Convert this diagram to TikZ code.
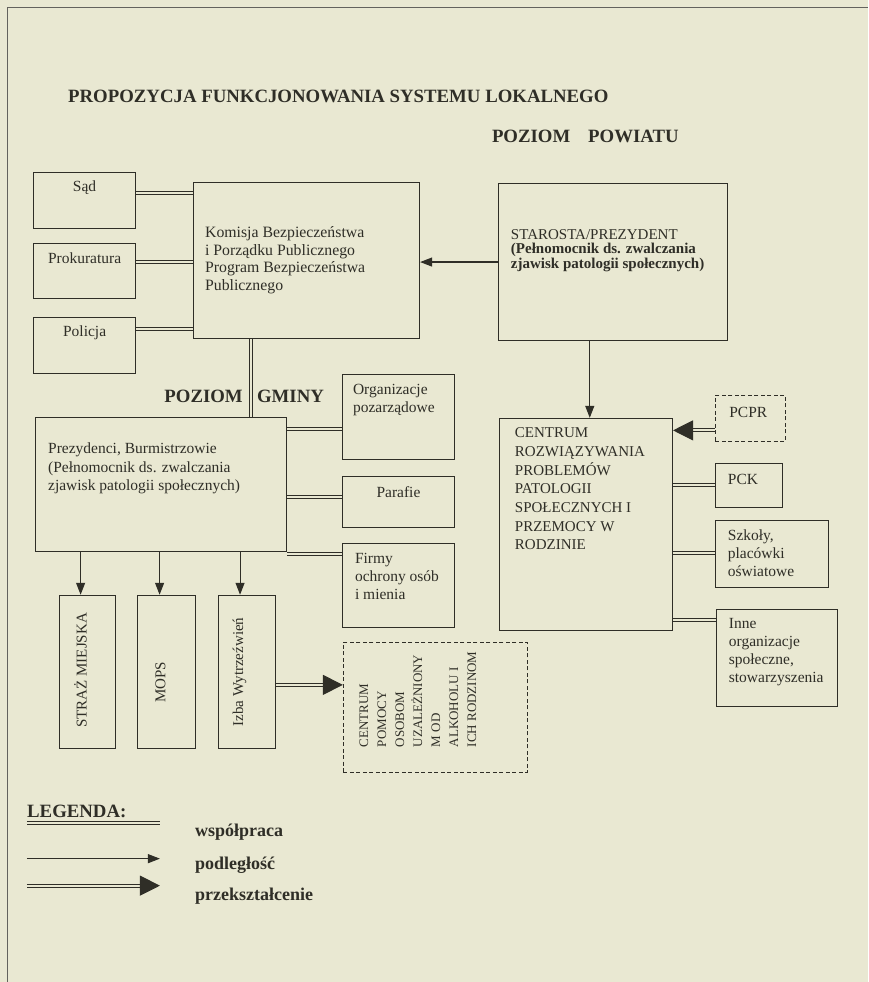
\documentclass[tikz,border=0pt]{standalone}
\usepackage{fontspec}
\setmainfont{Liberation Serif}
\usetikzlibrary{arrows.meta, positioning}
\definecolor{paper}{HTML}{E9E8D2}
\definecolor{ink}{HTML}{2F2E27}

\begin{document}
\begin{tikzpicture}[x=1pt, y=-1pt,
    box/.style={draw=ink, line width=1.3pt, anchor=north west, inner sep=0pt},
    dashbox/.style={box, line width=1.1pt, dash pattern=on 4pt off 2.5pt},
    txt/.style={text=ink, inner sep=0pt, align=left, font=\fontsize{15.5}{18}\selectfont},
    head/.style={text=ink, inner sep=0pt, font=\fontsize{18.8}{22}\selectfont\bfseries},
    lab/.style={text=ink, inner sep=0pt, font=\fontsize{18}{22}\selectfont\bfseries},
    coop/.style={draw=ink, line width=1pt, double=paper, double distance=2pt},
    sub/.style={draw=ink, line width=1.1pt, -{Triangle[length=12pt,width=9pt]}},
    trans/.style={coop, -{Triangle[length=20pt,width=20pt]}}]

    \fill[paper] (0,0) rectangle (868,982);
    \draw[ink!75, line width=0.8pt] (7,982) -- (7,7) -- (868,7);

    % naglowki
    \node[head, anchor=west] (title) at (68,96) {PROPOZYCJA FUNKCJONOWANIA SYSTEMU LOKALNEGO};
    \node[head, anchor=west] (powiat) at (492,136) {POZIOM\hspace{0.7em} POWIATU};

    % poziom powiatu / komisja
    \node[box, minimum width=102pt, minimum height=56pt] (sad) at (33,172) {};
    \node[box, minimum width=102pt, minimum height=55pt] (prok) at (33,243) {};
    \node[box, minimum width=102pt, minimum height=56pt] (policja) at (33,317) {};
    \node[box, minimum width=226pt, minimum height=156pt] (komisja) at (193,182) {};
    \node[box, minimum width=229pt, minimum height=157pt] (starosta) at (498,183) {};

    \node[txt] (sad-t) at ([shift={(0,16)}]sad.north) {Sąd};
    \node[txt] (prok-t) at ([shift={(0,15)}]prok.north) {Prokuratura};
    \node[txt] (policja-t) at ([shift={(0,16)}]policja.north) {Policja};
    \node[txt, anchor=west, font=\fontsize{15.8}{17.5}\selectfont] (komisja-t) at ([shift={(12,78.5)}]komisja.north west)
        {Komisja Bezpieczeństwa\\i Porządku Publicznego\\Program Bezpieczeństwa\\Publicznego};
    \node[txt, anchor=west, font=\fontsize{15}{14.7}\selectfont] (starosta-t) at ([shift={(13,67.5)}]starosta.north west)
        {STAROSTA/PREZYDENT\\\textbf{(Pełnomocnik ds. zwalczania}\\\textbf{zjawisk patologii społecznych)}};

    % poziom gminy
    \node[box, minimum width=251pt, minimum height=134pt] (prez) at (35,417) {};
    \node[box, minimum width=112pt, minimum height=85pt] (org) at (342,374) {};
    \node[box, minimum width=112pt, minimum height=51pt] (parafie) at (342,476) {};
    \node[box, minimum width=112pt, minimum height=84pt] (firmy) at (342,543) {};
    \node[box, minimum width=56pt, minimum height=153pt] (straz) at (59,595) {};
    \node[box, minimum width=58pt, minimum height=153pt] (mops) at (137,595) {};
    \node[box, minimum width=57pt, minimum height=153pt] (izba) at (218,595) {};
    \node[dashbox, minimum width=184pt, minimum height=130pt] (cpom) at (343,642) {};

    \node[head, anchor=east] (gmina-l) at (243,397) {POZIOM};
    \node[head, anchor=west] (gmina-r) at (257,397) {GMINY};

    \node[txt, anchor=west, font=\fontsize{15.5}{18.5}\selectfont] (prez-t) at ([shift={(13,51.5)}]prez.north west)
        {Prezydenci, Burmistrzowie\\(Pełnomocnik ds. zwalczania\\zjawisk patologii społecznych)};
    \node[txt, anchor=west] (org-t) at ([shift={(11,26)}]org.north west) {Organizacje\\pozarządowe};
    \node[txt] (parafie-t) at ([shift={(0,16)}]parafie.north) {Parafie};
    \node[txt, anchor=west] (firmy-t) at ([shift={(13,34)}]firmy.north west) {Firmy\\ochrony osób\\i mienia};
    \node[txt, rotate=90, font=\fontsize{15}{18}\selectfont] (straz-t) at ([shift={(-7,-1.5)}]straz.center) {STRAŻ MIEJSKA};
    \node[txt, rotate=90, font=\fontsize{15}{18}\selectfont] (mops-t) at ([shift={(-6,10.5)}]mops.center) {MOPS};
    \node[txt, rotate=90, font=\fontsize{15}{18}\selectfont] (izba-t) at ([shift={(-7.5,0)}]izba.center) {Izba Wytrzeźwień};
    \node[txt, rotate=90, font=\fontsize{13}{18}\selectfont] (cpom-t) at ([shift={(-17.5,-8)}]cpom.center)
        {CENTRUM\\POMOCY\\OSOBOM\\UZALEŻNIONY\\M OD\\ALKOHOLU I\\ICH RODZINOM};

    % centrum i partnerzy
    \node[box, minimum width=173pt, minimum height=212pt] (centrum) at (499,418) {};
    \node[dashbox, minimum width=70pt, minimum height=46pt] (pcpr) at (715,395) {};
    \node[box, minimum width=67pt, minimum height=44pt] (pck) at (715,463) {};
    \node[box, minimum width=113pt, minimum height=67pt] (szkoly) at (715,520) {};
    \node[box, minimum width=121pt, minimum height=97pt] (inne) at (716,609) {};

    \node[txt, anchor=west, font=\fontsize{15}{18.7}\selectfont] (centrum-t) at ([shift={(16,71)}]centrum.north west)
        {CENTRUM\\ROZWIĄZYWANIA\\PROBLEMÓW\\PATOLOGII\\SPOŁECZNYCH I\\PRZEMOCY W\\RODZINIE};
    \node[txt] (pcpr-t) at ([shift={(-2,18)}]pcpr.north) {PCPR};
    \node[txt, anchor=west] (pck-t) at ([shift={(13,17)}]pck.north west) {PCK};
    \node[txt, anchor=west] (szkoly-t) at ([shift={(13,33.5)}]szkoly.north west) {Szkoły,\\placówki\\oświatowe};
    \node[txt, anchor=west] (inne-t) at ([shift={(13,43.5)}]inne.north west) {Inne\\organizacje\\społeczne,\\stowarzyszenia};

    % wspolpraca
    \foreach \b/\d in {sad/21, prok/19, policja/12} {
        \coordinate (\b-c) at ([shift={(0,\d)}]\b.north east);
        \draw[coop] (\b-c) -- (\b-c -| komisja.west);
    }
    \foreach \b/\d in {org/12, parafie/80, firmy/137} {
        \coordinate (\b-c) at ([shift={(0,\d)}]prez.north east);
        \draw[coop] (\b-c) -- (\b-c -| \b.west);
    }
    \foreach \b/\d in {pck/67, szkoly/135, inne/202} {
        \coordinate (\b-c) at ([shift={(0,\d)}]centrum.north east);
        \draw[coop] (\b-c) -- (\b-c -| \b.west);
    }
    \coordinate (ko-c) at ([shift={(58,0)}]komisja.south west);
    \draw[coop] (ko-c) -- (ko-c |- prez.north);

    % podleglosc
    \draw[sub] (starosta.west) -- (starosta.west -| komisja.east);
    \coordinate (st-c) at ([shift={(92,0)}]starosta.south west);
    \draw[sub] (st-c) -- (st-c |- centrum.north);
    \foreach \b in {straz, mops, izba} {
        \coordinate (\b-in) at ([shift={(-7,0)}]\b.north);
        \draw[sub] (\b-in |- prez.south) -- (\b-in);
    }

    % przeksztalcenie
    \coordinate (pcpr-c) at ([shift={(0,12)}]pcpr.west);
    \draw[trans] (pcpr-c) -- (pcpr-c -| centrum.east);
    \coordinate (izba-c) at ([shift={(0,13)}]izba.east);
    \draw[trans] (izba-c) -- (izba-c -| cpom.west);

    % legenda
    \node[head, anchor=west] (legenda) at (27,812) {LEGENDA:};
    \foreach \y/\s/\t/\ty in {823/coop/współpraca/832, 859/sub/podległość/866, 886/trans/przekształcenie/897} {
        \coordinate (lg-a\y) at (27,\y);
        \coordinate (lg-b\y) at (160,\y);
        \draw[\s] (lg-a\y) -- (lg-b\y);
        \node[lab, anchor=west] (lg-t\y) at (195,\ty) {\t};
    }
\end{tikzpicture}
\end{document}
